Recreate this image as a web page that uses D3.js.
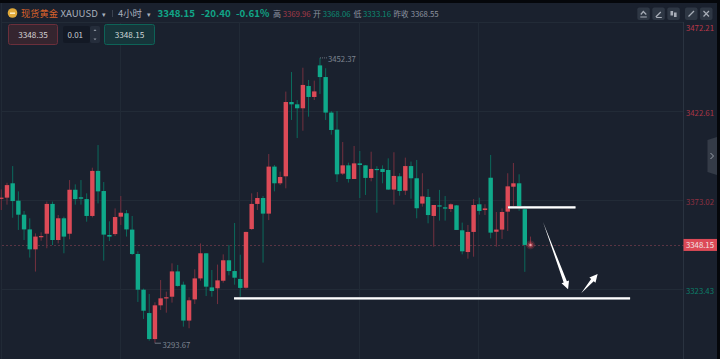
<!DOCTYPE html>
<html>
<head>
<meta charset="utf-8">
<script src="https://cdn.jsdelivr.net/npm/d3@7"></script>
<style>
  html, body { margin: 0; padding: 0; background: #1a212e; overflow: hidden; }
  text { font-family: "Noto Sans CJK SC", "Noto Sans", sans-serif; }
</style>
</head>
<body>
<svg id="chart" width="720" height="359"></svg>
<script>
const opens = [3374.1,3374.5,3382.5,3372.8,3365.0,3356.8,3345.7,3352.8,3354.4,3371.0,3350.9,3363.0,3354.4,3378.9,3374.7,3373.7,3364.3,3389.4,3378.2,3353.7,3354.2,3363.9,3365.8,3356.7,3343.1,3323.2,3310.2,3295.7,3314.5,3318.4,3319.3,3333.4,3326.0,3306.0,3317.8,3329.5,3343.5,3324.5,3324.0,3328.2,3339.6,3333.6,3329.2,3324.3,3357.0,3371.0,3374.3,3365.6,3391.8,3382.5,3386.4,3427.8,3426.5,3424.3,3436.7,3430.6,3448.2,3441.7,3421.9,3412.4,3387.9,3392.5,3384.9,3393.6,3392.5,3385.5,3390.5,3390.5,3389.9,3379.0,3386.4,3378.4,3392.1,3385.3,3371.2,3374.9,3364.3,3370.2,3369.1,3368.2,3370.2,3356.3,3344.2,3355.4,3370.8,3367.6,3385.6,3355.5,3356.7,3366.7,3380.6,3382.5,3368.06,3347.9];
const closes = [3374.5,3381.5,3372.6,3365.0,3356.8,3345.7,3352.8,3353.1,3371.0,3350.9,3363.0,3352.8,3378.9,3373.7,3373.9,3364.3,3389.4,3378.0,3353.9,3352.8,3363.7,3366.1,3356.8,3343.1,3323.2,3311.5,3295.7,3314.5,3318.4,3319.0,3333.4,3325.3,3306.0,3317.3,3329.5,3343.5,3324.9,3322.5,3328.4,3339.6,3333.6,3329.9,3324.2,3355.4,3371.0,3374.3,3365.6,3391.8,3382.5,3386.0,3427.8,3426.5,3424.3,3437.3,3430.6,3433.7,3441.7,3421.9,3412.2,3387.5,3392.5,3384.9,3393.6,3392.7,3385.5,3390.5,3390.1,3388.8,3379.0,3386.6,3378.2,3392.1,3385.3,3368.6,3375.2,3364.8,3370.4,3369.7,3368.4,3370.8,3356.5,3344.6,3355.4,3370.4,3367.1,3368.5,3355.0,3356.7,3366.5,3380.8,3382.5,3369.1,3348.15,3348.15];
const highs = [3379.1,3382.8,3392.1,3378.0,3367.1,3363.0,3354.6,3355.2,3372.3,3372.3,3364.8,3363.9,3384.3,3381.9,3384.3,3376.9,3391.2,3403.8,3383.2,3361.3,3368.5,3375.4,3367.6,3364.3,3344.6,3323.8,3320.8,3316.2,3328.6,3322.1,3337.9,3337.0,3327.7,3319.0,3334.6,3349.0,3343.5,3334.2,3337.2,3342.9,3348.1,3360.4,3342.7,3355.5,3376.9,3377.6,3375.4,3398.8,3392.7,3389.0,3433.6,3444.5,3428.9,3446.9,3440.1,3439.7,3452.37,3446.6,3422.8,3422.8,3405.5,3394.0,3403.3,3400.5,3392.7,3400.1,3392.0,3392.5,3396.4,3399.8,3388.1,3396.8,3394.6,3395.5,3388.1,3379.3,3370.4,3378.8,3375.4,3371.3,3370.4,3360.6,3359.3,3373.7,3374.5,3370.8,3398.3,3366.5,3368.5,3388.1,3393.8,3387.5,3369.96,3352.8];
const lows = [3367.6,3370.6,3363.3,3356.5,3350.9,3341.1,3333.3,3350.5,3346.3,3348.1,3349.0,3343.5,3351.3,3370.6,3370.6,3361.1,3363.5,3371.3,3339.4,3350.3,3353.1,3359.3,3352.8,3342.5,3316.4,3306.9,3294.8,3293.67,3311.9,3310.4,3316.0,3324.9,3302.6,3301.7,3315.2,3328.2,3319.7,3319.3,3315.2,3327.1,3331.2,3326.0,3319.3,3323.8,3356.5,3367.6,3338.3,3362.0,3378.0,3381.5,3379.7,3417.8,3407.7,3411.8,3419.6,3428.9,3432.3,3417.8,3409.6,3383.2,3387.1,3382.9,3384.9,3374.3,3376.0,3383.6,3366.1,3382.5,3378.8,3370.6,3375.6,3376.0,3373.9,3363.0,3369.5,3360.2,3347.2,3361.7,3361.7,3366.5,3356.5,3342.9,3340.5,3341.6,3365.0,3364.8,3351.8,3347.2,3351.5,3355.9,3369.5,3367.2,3333.16,3347.9];

const priceTicks = [3472.21, 3422.61, 3373.02, 3323.43];
const priceTickColors = ["#b8384a", "#a83546", "#8f3041", "#0c7d68"];
const lastPrice = 3348.15;
const timeTicks = [21, 42, 63, 84];

// horizontal levels and the two hand drawn arrows, in bar index / price
const levels = [[40.9, 110.5, 3318.4], [89.05, 100.9, 3369.1]];
const arrows = [[95.2, 3360.9, 99.6, 3323.4], [101.9, 3321.2, 104.8, 3331.9]];

const headerParts = [
  ["现货黄金", 21, "#d9622b", 9.25, 400],
  ["XAUUSD", 60.5, "#a9b0bc", 9.6, 400],
  ["▾", 102, "#a9b0bc", 7, 400],
  ["4小时", 118, "#a9b0bc", 9.4, 400],
  ["▾", 147, "#a9b0bc", 7, 400],
  ["3348.15", 157.5, "#11a587", 9.7, 600],
  ["-20.40", 201, "#11a587", 9.7, 600],
  ["-0.61%", 236, "#11a587", 9.7, 600],
  ["高", 273, "#8d94a0", 8, 400],
  ["3369.96", 282.7, "#a13a48", 7.75, 400],
  ["开", 313, "#8d94a0", 8, 400],
  ["3368.06", 322.7, "#0c8a72", 7.75, 400],
  ["低", 353.5, "#8d94a0", 8, 400],
  ["3333.16", 363, "#0c8a72", 7.75, 400],
  ["昨收", 393.5, "#8d94a0", 7.5, 400],
  ["3368.55", 410.7, "#8d94a0", 7.75, 400]
];

const svg = d3.select("#chart");

const x = d3.scaleLinear().domain([0, 93]).range([1.3, 530.5]);
const y = d3.scaleLinear().domain([3323.43, 3472.21]).range([289.3, 22.3]);
const fmt = d3.format(".2f");

// grid
svg.append("g").selectAll("line").data(priceTicks).join("line")
  .attr("x1", 2).attr("x2", 684)
  .attr("y1", d => Math.round(y(d)) + 0.5).attr("y2", d => Math.round(y(d)) + 0.5)
  .attr("stroke", "#222b37");
svg.append("g").selectAll("line").data(timeTicks).join("line")
  .attr("x1", d => Math.round(x(d)) - 0.5).attr("x2", d => Math.round(x(d)) - 0.5)
  .attr("y1", 22).attr("y2", 359)
  .attr("stroke", "#212a36");
svg.append("line").attr("x1", 1.5).attr("x2", 1.5).attr("y1", 3).attr("y2", 359).attr("stroke", "#212a36");

// axis divider
svg.append("line").attr("x1", 683.5).attr("x2", 683.5).attr("y1", 22).attr("y2", 359).attr("stroke", "#2a3340");

// last price dotted line
svg.append("line")
  .attr("x1", 2).attr("x2", 684)
  .attr("y1", Math.round(y(lastPrice)) + 0.5).attr("y2", Math.round(y(lastPrice)) + 0.5)
  .attr("stroke", "#5a3443").attr("stroke-dasharray", "2 2");

// candles
const bars = d3.range(opens.length).map(i => ({ i, o: opens[i], c: closes[i], h: highs[i], l: lows[i] }));
const up = d => d.c >= d.o;

svg.append("g").selectAll("line").data(bars).join("line")
  .attr("x1", d => x(d.i)).attr("x2", d => x(d.i))
  .attr("y1", d => y(d.h)).attr("y2", d => y(d.l))
  .attr("stroke", d => up(d) ? "#74303f" : "#0b6a5c");

svg.append("g").selectAll("rect").data(bars.slice(0, -1)).join("rect")
  .attr("x", d => x(d.i) - 2.2)
  .attr("width", 4.4)
  .attr("y", d => y(Math.max(d.o, d.c)))
  .attr("height", d => Math.max(1.2, Math.abs(y(d.o) - y(d.c))))
  .attr("fill", d => up(d) ? "#dd4a57" : "#0fa98a");

// glowing current price point
const lastX = x(bars.length - 1);
svg.append("circle").attr("cx", lastX).attr("cy", y(lastPrice)).attr("r", 4.5).attr("fill", "#dd4a57").attr("opacity", 0.22);
svg.append("circle").attr("cx", lastX).attr("cy", y(lastPrice)).attr("r", 2.8).attr("fill", "#dd4a57").attr("opacity", 0.45);
svg.append("circle").attr("cx", lastX).attr("cy", y(lastPrice)).attr("r", 1.2).attr("fill", "#f0a0a5");

// high / low labels
const hiIdx = d3.maxIndex(highs), loIdx = d3.minIndex(lows);
svg.append("path")
  .attr("d", d3.line()([[x(hiIdx), y(highs[hiIdx])], [x(hiIdx) + 7, y(highs[hiIdx])]]))
  .attr("fill", "none").attr("stroke", "#6d7480").attr("stroke-dasharray", "1 1");
svg.append("text").attr("x", x(hiIdx) + 8).attr("y", y(highs[hiIdx]) + 4.5)
  .attr("fill", "#7d8490").attr("font-size", 7.75).text(fmt(highs[hiIdx]));
svg.append("path")
  .attr("d", d3.line()([[x(loIdx), y(lows[loIdx])], [x(loIdx), y(lows[loIdx]) + 0.5], [x(loIdx) + 6, y(lows[loIdx]) + 0.5]]))
  .attr("fill", "none").attr("stroke", "#6d7480");
svg.append("text").attr("x", x(loIdx) + 7.5).attr("y", y(lows[loIdx]) + 5.5)
  .attr("fill", "#7d8490").attr("font-size", 7.75).text(fmt(lows[loIdx]));

// price axis labels
svg.append("g").selectAll("text").data(priceTicks).join("text")
  .attr("x", 686).attr("y", (d, i) => y(d) + (i === 0 ? 8.7 : 4.5))
  .attr("fill", (d, i) => priceTickColors[i]).attr("font-size", 7.75)
  .text(d => fmt(d));

svg.append("rect").attr("x", 683.5).attr("y", y(lastPrice) - 6).attr("width", 33.5).attr("height", 12).attr("fill", "#dd4a57");
svg.append("text").attr("x", 686).attr("y", y(lastPrice) + 3.3)
  .attr("fill", "#f3e3e5").attr("font-size", 7.75).text(fmt(lastPrice));

// white levels
const levelG = svg.append("g");
levelG.selectAll("line.edge").data(levels).join("line").attr("class", "edge")
  .attr("x1", d => x(d[0])).attr("x2", d => x(d[1]))
  .attr("y1", d => y(d[2])).attr("y2", d => y(d[2]))
  .attr("stroke", "#9a9fa6").attr("stroke-width", 2.6);
levelG.selectAll("line.core").data(levels).join("line").attr("class", "core")
  .attr("x1", d => x(d[0])).attr("x2", d => x(d[1]))
  .attr("y1", d => y(d[2])).attr("y2", d => y(d[2]))
  .attr("stroke", "#ffffff").attr("stroke-width", 1.8);

// tapered arrows
const arrowPath = (a) => {
  const x0 = x(a[0]), y0 = y(a[1]), x1 = x(a[2]), y1 = y(a[3]);
  const len = Math.hypot(x1 - x0, y1 - y0);
  const ux = (x1 - x0) / len, uy = (y1 - y0) / len;
  const nx = -uy, ny = ux;
  const bx = x1 - ux * 8, by = y1 - uy * 8;
  return d3.line()([
    [x0, y0],
    [bx + nx * 1.7, by + ny * 1.7],
    [bx + nx * 4, by + ny * 4],
    [x1, y1],
    [bx - nx * 4, by - ny * 4],
    [bx - nx * 1.7, by - ny * 1.7]
  ]) + "Z";
};
svg.append("g").selectAll("path").data(arrows).join("path")
  .attr("d", arrowPath).attr("fill", "#ffffff");

// header
const header = svg.append("g");
header.append("circle").attr("cx", 12.5).attr("cy", 13).attr("r", 4.8).attr("fill", "#e0a93a");
header.append("rect").attr("x", 10).attr("y", 12.5).attr("width", 5).attr("height", 1.4).attr("fill", "#fff3d0");
header.append("line").attr("x1", 112.5).attr("x2", 112.5).attr("y1", 10).attr("y2", 17).attr("stroke", "#3a4250");
header.selectAll("text").data(headerParts).join("text")
  .attr("x", d => d[1]).attr("y", 17)
  .attr("fill", d => d[2]).attr("font-size", d => d[3]).attr("font-weight", d => d[4])
  .text(d => d[0]);

// order box
const boxes = svg.append("g");
boxes.append("rect").attr("x", 8.5).attr("y", 24.5).attr("width", 49).attr("height", 20).attr("rx", 2)
  .attr("fill", "#35252f").attr("stroke", "#6b2f3b");
boxes.append("text").attr("x", 33).attr("y", 37.5).attr("text-anchor", "middle").attr("fill", "#d6d3d6").attr("font-size", 8.2).text("3348.35");
boxes.append("rect").attr("x", 63).attr("y", 26).attr("width", 27).attr("height", 17).attr("rx", 2).attr("fill", "#131925");
boxes.append("text").attr("x", 67.5).attr("y", 37.5).attr("fill", "#c8ccd2").attr("font-size", 8).text("0.01");
boxes.append("rect").attr("x", 90).attr("y", 26).attr("width", 10).attr("height", 17).attr("rx", 2).attr("fill", "#252d3b");
boxes.append("path").attr("d", "M93.5 31 L95 29.2 L96.5 31 Z M93.5 38.5 L95 40.3 L96.5 38.5 Z").attr("fill", "#8d94a0");
boxes.append("rect").attr("x", 104.5).attr("y", 24.5).attr("width", 50).attr("height", 20).attr("rx", 2)
  .attr("fill", "#16353a").attr("stroke", "#0d6357");
boxes.append("text").attr("x", 129.5).attr("y", 37.5).attr("text-anchor", "middle").attr("fill", "#d0d8d8").attr("font-size", 8.2).text("3348.15");

// top right buttons
const btnX = [637.3, 652.3, 667.3, 685, 700];
const btnIcons = [
  "M3 9.5 H9.5 M3.5 7 L6 4 L9 7",
  "M3.5 9.5 L8.5 4.5 M4 10 H9.5",
  "M4.5 3.5 V8 M8 5 V9.5",
  "M3.5 9 L9 3.5",
  "M3.5 3.5 L9 9 M9 3.5 L3.5 9"
];
const btns = svg.append("g").selectAll("g").data(btnX).join("g")
  .attr("transform", d => `translate(${d},7.5)`);
btns.append("rect").attr("width", 12.5).attr("height", 12.5).attr("rx", 2).attr("fill", "#2e3744");
btns.append("path").attr("d", (d, i) => btnIcons[i]).attr("fill", "none")
  .attr("stroke", "#a8aeb8").attr("stroke-width", (d, i) => i === 2 ? 2.6 : 1.2);

// side handle and frame
svg.append("path").attr("d", "M717 137 L707.5 140 L707.5 172 L717 175 Z").attr("fill", "#343b47");
svg.append("path").attr("d", "M710.5 153 L713.5 156 L710.5 159").attr("fill", "none").attr("stroke", "#9aa0aa").attr("stroke-width", 1);
svg.append("rect").attr("x", 717).attr("y", 0).attr("width", 3).attr("height", 359).attr("fill", "#05070b");
svg.append("rect").attr("x", 0).attr("y", 0).attr("width", 720).attr("height", 3).attr("fill", "#05070b");
</script>
</body>
</html>
